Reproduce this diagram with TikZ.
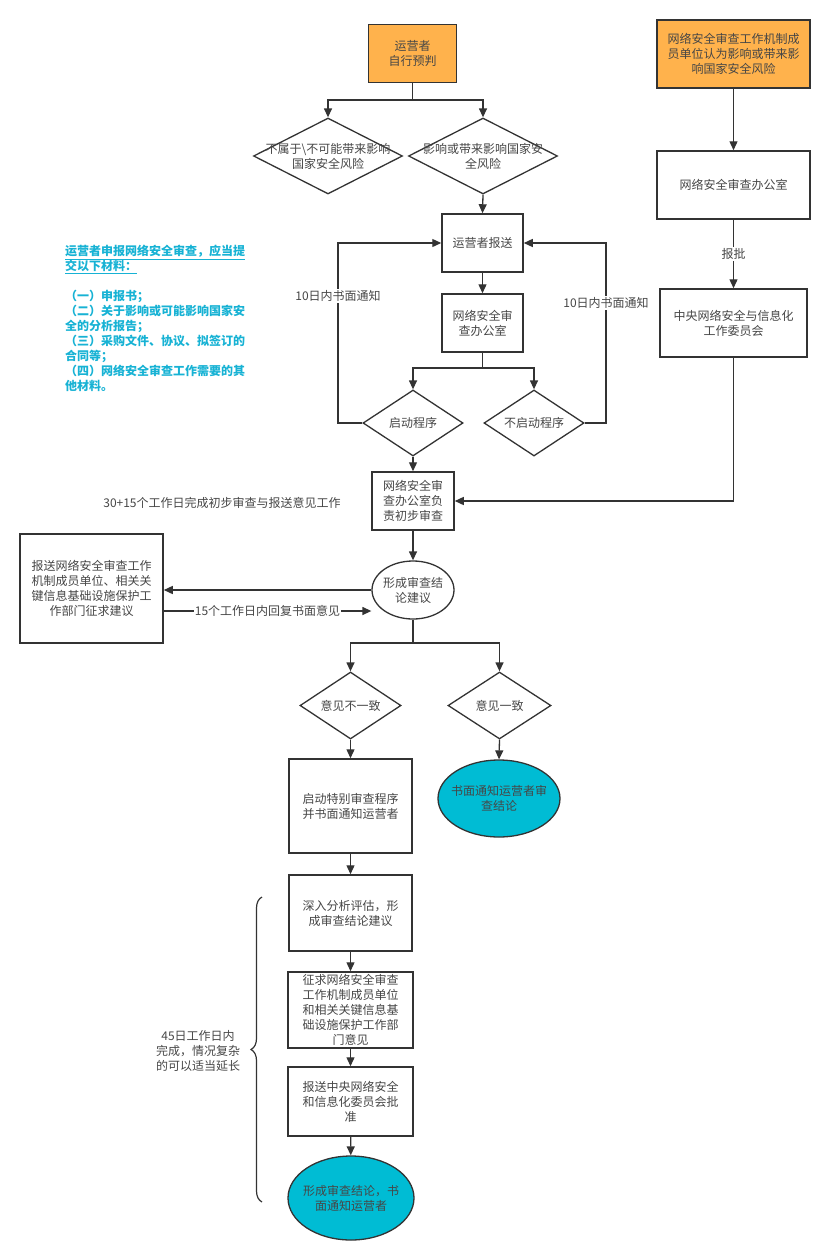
\documentclass[tikz,border=0pt]{standalone}
\usepackage{fontspec}
\setmainfont{Noto Sans CJK SC}
\usetikzlibrary{arrows.meta,shapes.geometric,decorations.pathreplacing}
\definecolor{lc}{RGB}{51,51,51}
\definecolor{tc}{RGB}{70,70,70}
\definecolor{orangefill}{RGB}{255,178,76}
\definecolor{cyanfill}{RGB}{0,188,212}
\definecolor{cyantext}{RGB}{23,178,212}
\begin{document}
\begin{tikzpicture}[x=1pt,y=-1pt,
  font=\fontsize{12}{15}\selectfont,
  box/.style={draw=lc, line width=1.5pt, fill=white, text=tc, align=center, inner sep=0pt},
  obox/.style={box, fill=orangefill},
  dia/.style={diamond, draw=lc, line width=1.3pt, fill=white, inner sep=0pt},
  ell/.style={ellipse, draw=lc, line width=1.3pt, fill=white, inner sep=0pt},
  cell/.style={ell, fill=cyanfill},
  txt/.style={text=tc, align=center, inner sep=0pt},
  lbl/.style={text=tc, fill=white, inner sep=1pt, align=center},
  conn/.style={draw=lc, line width=1.3pt},
  arr/.style={conn, -{Triangle[length=9pt,width=8pt]}}
]
\useasboundingbox (0,0) rectangle (830,1253);

% left column / centre
\node[obox, minimum width=88pt, minimum height=58pt] (op) at (412.5,53.5) {运营者\\自行预判};
\node[dia, minimum width=149pt, minimum height=76pt, label={[txt]center:{不属于\textbackslash 不可能带来影响\\国家安全风险}}] (d1) at (328,156) {};
\node[dia, minimum width=149pt, minimum height=76pt, label={[txt]center:{影响或带来影响国家安\\全风险}}] (d2) at (483,156) {};
\node[box, minimum width=81pt, minimum height=58pt] (report) at (482.5,243) {运营者报送};
\node[box, minimum width=81pt, minimum height=58pt] (office1) at (482.5,323) {网络安全审\\查办公室};
\node[dia, minimum width=100pt, minimum height=66pt, label={[txt]center:{启动程序}}] (start) at (413,423) {};
\node[dia, minimum width=100pt, minimum height=66pt, label={[txt]center:{不启动程序}}] (nostart) at (534,423) {};
\node[box, minimum width=82pt, minimum height=58pt] (prelim) at (413,501) {网络安全审\\查办公室负\\责初步审查};
\node[ell, minimum width=82pt, minimum height=58pt, label={[txt]center:{形成审查结\\论建议}}] (concl) at (413,590) {};
\node[box, minimum width=143pt, minimum height=109pt] (solicit) at (91.5,588.5) {报送网络安全审查工作\\机制成员单位、相关关\\键信息基础设施保护工\\作部门征求建议};
\node[dia, minimum width=101pt, minimum height=67pt, label={[txt]center:{意见不一致}}] (disagree) at (350.5,705.5) {};
\node[dia, minimum width=103pt, minimum height=67pt, label={[txt]center:{意见一致}}] (agree) at (499.5,705.5) {};
\node[box, minimum width=123pt, minimum height=94pt] (special) at (350.5,806) {启动特别审查程序\\并书面通知运营者};
\node[cell, minimum width=122pt, minimum height=77pt, label={[txt]center:{书面通知运营者审\\查结论}}] (notify) at (499,798.5) {};
\node[box, minimum width=123pt, minimum height=76pt] (analyze) at (350.5,913) {深入分析评估，形\\成审查结论建议};
\node[box, minimum width=125pt, minimum height=76pt] (seek) at (350.5,1010) {征求网络安全审查\\工作机制成员单位\\和相关关键信息基\\础设施保护工作部\\门意见};
\node[box, minimum width=125pt, minimum height=69pt] (approve) at (350.5,1101.5) {报送中央网络安全\\和信息化委员会批\\准};
\node[cell, minimum width=126pt, minimum height=84pt, label={[txt]center:{形成审查结论，书\\面通知运营者}}] (final) at (351,1198) {};

% right column
\node[obox, minimum width=153pt, minimum height=68pt] (member) at (733.5,54) {网络安全审查工作机制成\\员单位认为影响或带来影\\响国家安全风险};
\node[box, minimum width=153pt, minimum height=68pt] (office2) at (733.5,185) {网络安全审查办公室};
\node[box, minimum width=147pt, minimum height=68pt] (central) at (733.5,323) {中央网络安全与信息化\\工作委员会};

% helper coordinates
\coordinate (jA) at (412.5,100);
\coordinate (j1) at (482.5,368);
\coordinate (j2) at (413,643);
\coordinate (lx) at (338,0);
\coordinate (rx) at (606,0);
\coordinate (ry) at (0,611);

% connectors
\draw[conn] (op.south) -- (jA);
\draw[arr] (jA) -| (d1.north);
\draw[arr] (jA) -| (d2.north);
\draw[arr] (d2.south) -- (report.north);
\draw[arr] (report) -- (office1);
\draw[conn] (office1.south) -- (j1);
\draw[arr] (j1) -| (start.north);
\draw[arr] (j1) -| (nostart.north);
\draw[arr] (start.west) -- (start.west -| lx) |- (report.west);
\draw[arr] (nostart.east) -- (nostart.east -| rx) |- (report.east);
\node[lbl] (n10a) at (338,296) {10日内书面通知};
\node[lbl] (n10b) at (606,303) {10日内书面通知};
\draw[arr] (start.south) -- (prelim.north);
\draw[arr] (central.south) |- (prelim.east);
\node[txt] (t3015) at (222,503) {30+15个工作日完成初步审查与报送意见工作};
\draw[arr] (prelim) -- (concl);
\draw[arr] (concl.west) -- (concl.west -| solicit.east);
\draw[arr] (solicit.east |- ry) -- node[lbl] (n15) {15个工作日内回复书面意见} (concl.west |- ry);
\draw[conn] (concl.south) -- (j2);
\draw[arr] (j2) -| (disagree.north);
\draw[arr] (j2) -| (agree.north);
\draw[arr] (disagree.south) -- (special.north);
\draw[arr] (agree.south) -- (notify.north);
\draw[arr] (special) -- (analyze);
\draw[arr] (analyze) -- (seek);
\draw[arr] (seek) -- (approve);
\draw[arr] (approve) -- (final);
\draw[arr] (member) -- (office2);
\draw[arr] (office2) -- node[lbl] (nbp) {报批} (central);

% brace
\draw[conn, line width=1.2pt, decorate, decoration={brace, amplitude=11pt}] (262,1202) -- (262,897);
\node[txt] (dur) at (198,1051) {45日工作日内\\完成，情况复杂\\的可以适当延长};

% materials note
\node[anchor=north west, inner sep=0pt, align=left, text=cyantext, font=\fontsize{12}{15}\selectfont\bfseries] (note) at (65,245) {\underline{运营者申报网络安全审查，应当提}\\\underline{交以下材料：}\\[15pt]
（一）申报书；\\
（二）关于影响或可能影响国家安\\全的分析报告；\\
（三）采购文件、协议、拟签订的\\合同等；\\
（四）网络安全审查工作需要的其\\他材料。};
\end{tikzpicture}
\end{document}
